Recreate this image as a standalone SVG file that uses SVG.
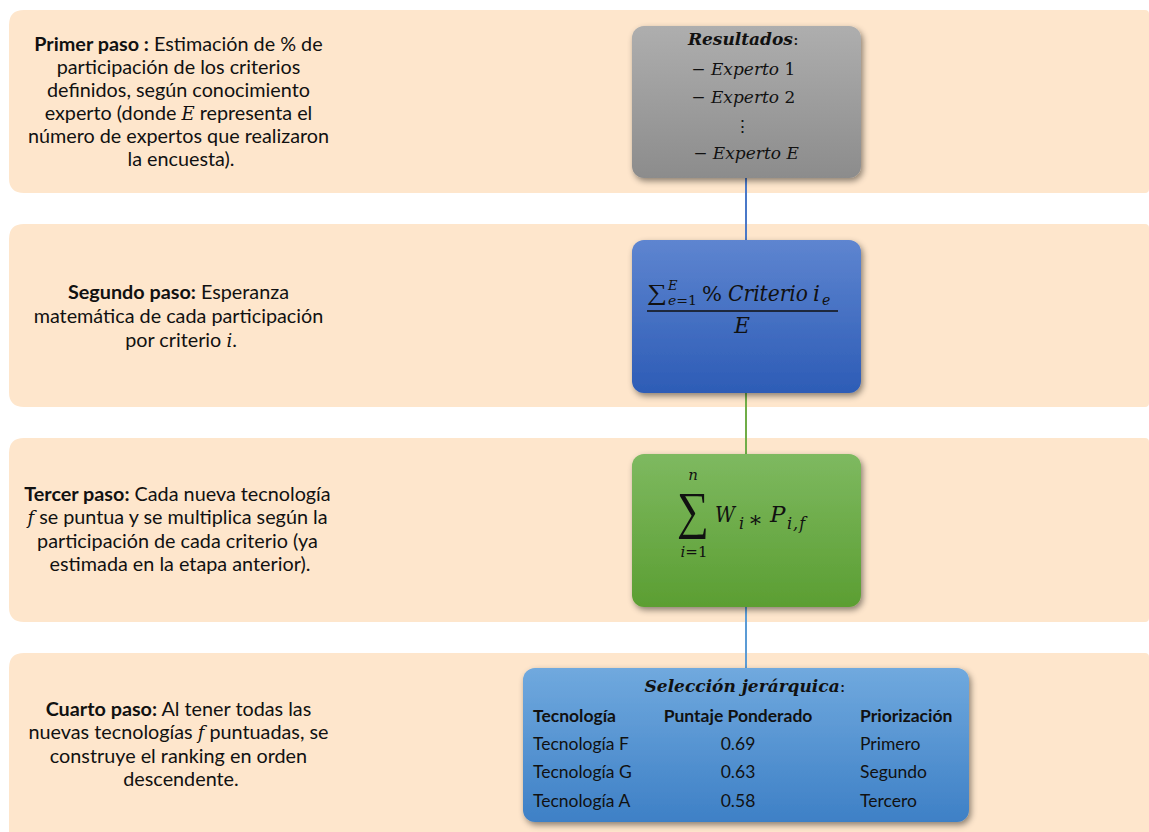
<svg xmlns="http://www.w3.org/2000/svg" width="1149" height="832" viewBox="0 0 1149 832">
<style>
.panel{fill:#FEE6CC}
.t{font-family:Lato,"Liberation Sans",sans-serif;font-size:19.8px;fill:#111}
.b{font-weight:bold}
.m{font-family:"DejaVu Serif",serif;font-style:italic;font-size:18px}
.ms{font-family:"DejaVu Serif",serif;fill:#111}
.sg{font-family:"Liberation Serif",serif;fill:#111}
.tb{font-family:Lato,"Liberation Sans",sans-serif;font-size:17.5px;fill:#111}
</style>
<defs>
<linearGradient id="gGray" x1="0" y1="0" x2="0" y2="1"><stop offset="0" stop-color="#AEAEAE"/><stop offset="1" stop-color="#8C8C8C"/></linearGradient>
<linearGradient id="gBlue" x1="0" y1="0" x2="0" y2="1"><stop offset="0" stop-color="#5E85D0"/><stop offset="1" stop-color="#2D5CB6"/></linearGradient>
<linearGradient id="gGreen" x1="0" y1="0" x2="0" y2="1"><stop offset="0" stop-color="#7EB960"/><stop offset="1" stop-color="#5B9E32"/></linearGradient>
<linearGradient id="gLB" x1="0" y1="0" x2="0" y2="1"><stop offset="0" stop-color="#70A9DE"/><stop offset="1" stop-color="#3E80C6"/></linearGradient>
<filter id="sh" x="-10%" y="-10%" width="125%" height="130%"><feDropShadow dx="2" dy="3" stdDeviation="3" flood-color="#000" flood-opacity="0.45"/></filter>
</defs>

<g id="panels">
<path class="panel" d="M24,10 H1145 Q1149,10 1149,14 V189 Q1149,193 1145,193 H24 Q9,193 9,178 V25 Q9,10 24,10 Z"/>
<path class="panel" d="M24,224 H1145 Q1149,224 1149,228 V403 Q1149,407 1145,407 H24 Q9,407 9,392 V239 Q9,224 24,224 Z"/>
<path class="panel" d="M24,438 H1145 Q1149,438 1149,442 V618 Q1149,622 1145,622 H24 Q9,622 9,607 V453 Q9,438 24,438 Z"/>
<path class="panel" d="M24,653 H1145 Q1149,653 1149,657 V836 H9 V668 Q9,653 24,653 Z"/>
</g>

<g id="connectors" fill="none" stroke-width="2">
<line x1="746" y1="178" x2="746" y2="240" stroke="#4A78C8"/>
<line x1="746" y1="393" x2="746" y2="454" stroke="#70AD47"/>
<line x1="746" y1="607" x2="746" y2="668" stroke="#5B9BD5"/>
</g>

<g id="step1-text">
<text class="t" text-anchor="middle">
<tspan x="181" y="51"><tspan class="b">Primer paso :</tspan> Estimación de % de</tspan>
<tspan x="181" y="74">participación de los criterios</tspan>
<tspan x="181" y="97">definidos, según conocimiento</tspan>
<tspan x="181" y="120">experto (donde <tspan class="m">E</tspan> representa el</tspan>
<tspan x="181" y="143">número de expertos que realizaron</tspan>
<tspan x="181" y="166">la encuesta).</tspan>
</text>
</g>

<g id="step2-text">
<text class="t" text-anchor="middle">
<tspan x="181" y="299"><tspan class="b">Segundo paso:</tspan> Esperanza</tspan>
<tspan x="181" y="323">matemática de cada participación</tspan>
<tspan x="181" y="347">por criterio <tspan class="m">i</tspan>.</tspan>
</text>
</g>

<g id="step3-text">
<text class="t" text-anchor="middle">
<tspan x="180" y="501"><tspan class="b">Tercer paso:</tspan> Cada nueva tecnología</tspan>
<tspan x="180" y="524"><tspan class="m">f</tspan> se puntua y se multiplica según la</tspan>
<tspan x="180" y="548">participación de cada criterio (ya</tspan>
<tspan x="180" y="571">estimada en la etapa anterior).</tspan>
</text>
</g>

<g id="step4-text">
<text class="t" text-anchor="middle">
<tspan x="181" y="716"><tspan class="b">Cuarto paso:</tspan> Al tener todas las</tspan>
<tspan x="181" y="739">nuevas tecnologías <tspan class="m">f</tspan> puntuadas, se</tspan>
<tspan x="181" y="763">construye el ranking en orden</tspan>
<tspan x="181" y="786">descendente.</tspan>
</text>
</g>

<g id="node-resultados">
<rect x="632" y="26" width="229" height="152" rx="12" fill="url(#gGray)" filter="url(#sh)"/>
<text class="ms" font-size="17" text-anchor="middle">
<tspan x="746" y="45"><tspan font-weight="bold" font-style="italic">Resultados</tspan>:</tspan>
<tspan x="746" y="75">− <tspan font-style="italic">Experto</tspan> 1</tspan>
<tspan x="746" y="103">− <tspan font-style="italic">Experto</tspan> 2</tspan>
<tspan x="745" y="132">⋮</tspan>
<tspan x="746" y="159">− <tspan font-style="italic">Experto E</tspan></tspan>
</text>
</g>

<g id="node-esperanza">
<rect x="632" y="240" width="229" height="153" rx="12" fill="url(#gBlue)" filter="url(#sh)"/>
<text class="sg" font-size="23" x="647" y="300" textLength="20" lengthAdjust="spacingAndGlyphs">∑</text>
<text class="ms" font-size="13" font-style="italic" x="668" y="290">E</text>
<text class="ms" font-size="13" x="668" y="305" textLength="29" lengthAdjust="spacingAndGlyphs"><tspan font-style="italic">e</tspan>=1</text>
<text class="ms" font-size="21" x="702" y="301">%</text>
<text class="ms" font-size="21.5" font-style="italic" x="728" y="301" textLength="80" lengthAdjust="spacingAndGlyphs">Criterio</text>
<text class="ms" font-size="21.5" font-style="italic" x="813" y="301">i</text>
<text class="ms" font-size="14" font-style="italic" x="822" y="305">e</text>
<line x1="647" y1="311" x2="838" y2="311" stroke="#111" stroke-width="1.5"/>
<text class="ms" font-size="21.5" font-style="italic" x="742" y="333" text-anchor="middle">E</text>
</g>

<g id="node-suma">
<rect x="632" y="454" width="229" height="153" rx="12" fill="url(#gGreen)" filter="url(#sh)"/>
<text class="sg" font-size="52" x="677" y="528" textLength="32" lengthAdjust="spacingAndGlyphs">∑</text>
<text class="ms" font-size="15" font-style="italic" x="693" y="480" text-anchor="middle">n</text>
<text class="ms" font-size="15" x="694" y="557" text-anchor="middle"><tspan font-style="italic">i</tspan>=1</text>
<text class="ms" font-size="23" font-style="italic" x="715" y="522" textLength="20" lengthAdjust="spacingAndGlyphs">W</text>
<text class="ms" font-size="16" font-style="italic" x="739" y="529">i</text>
<text class="ms" font-size="22" x="748" y="527">∗</text>
<text class="ms" font-size="23" font-style="italic" x="770" y="522">P</text>
<text class="ms" font-size="16" font-style="italic" x="787" y="529" letter-spacing="1">i,f</text>
</g>

<g id="node-seleccion">
<rect x="523" y="668" width="446" height="154" rx="12" fill="url(#gLB)" filter="url(#sh)"/>
<text class="ms" font-size="17" text-anchor="middle" x="745" y="692"><tspan font-weight="bold" font-style="italic">Selección jerárquica</tspan>:</text>
<text class="tb" font-weight="bold" x="533" y="722">Tecnología</text>
<text class="tb" font-weight="bold" x="738" y="722" text-anchor="middle">Puntaje Ponderado</text>
<text class="tb" font-weight="bold" x="860" y="722">Priorización</text>
<text class="tb" x="533" y="750">Tecnología F</text>
<text class="tb" x="738" y="750" text-anchor="middle">0.69</text>
<text class="tb" x="860" y="750">Primero</text>
<text class="tb" x="533" y="778">Tecnología G</text>
<text class="tb" x="738" y="778" text-anchor="middle">0.63</text>
<text class="tb" x="860" y="778">Segundo</text>
<text class="tb" x="533" y="807">Tecnología A</text>
<text class="tb" x="738" y="807" text-anchor="middle">0.58</text>
<text class="tb" x="860" y="807">Tercero</text>
</g>
</svg>
